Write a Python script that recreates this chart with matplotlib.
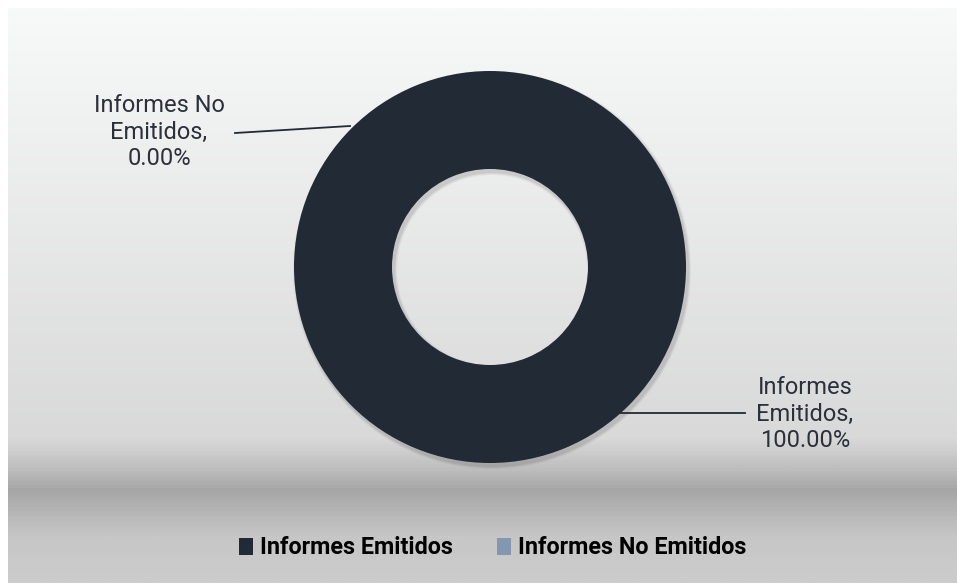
import numpy as np
import matplotlib
matplotlib.use('Agg')
import matplotlib.pyplot as plt
from matplotlib.colors import LinearSegmentedColormap

# data
categories = ['Informes Emitidos', 'Informes No Emitidos']
values = [100.0, 0.0]
colors = ['#222a35', '#8497b0']

W, H = 957, 583
fig = plt.figure(figsize=(W / 100, H / 100), dpi=100)
fig.patch.set_facecolor('white')
ax = fig.add_axes([0, 0, 1, 1])
ax.set_xlim(0, W)
ax.set_ylim(0, H)
ax.set_aspect('equal')
ax.axis('off')

# background gradient of the chart area (top to bottom)
stops = [(0.0, '#f8f9f9'), (0.75, '#d9d9d9'), (0.80, '#c0c0c0'),
         (0.84, '#a6a6a6'), (0.92, '#c6c6c6'), (1.0, '#cccccc')]
cmap = LinearSegmentedColormap.from_list('bg', stops)
grad = np.linspace(0, 1, 400).reshape(-1, 1)
ax.imshow(grad, cmap=cmap, aspect='auto', extent=(8, W, 0, H - 8), origin='upper', zorder=0)

cx, cy = 490, H - 267
R = 196

# soft shadow
for i, a in enumerate([0.06, 0.05, 0.04]):
    ax.pie([1], colors=['black'], radius=R + 1 + i, center=(cx + 2, cy - 3),
           wedgeprops=dict(width=R / 2 + 2 + 2 * i, alpha=a, linewidth=0), frame=True)

wedges, _ = ax.pie(values, colors=colors, radius=R, center=(cx, cy), startangle=90,
                   counterclock=False, wedgeprops=dict(width=R / 2, linewidth=0), frame=True)
ax.set_xlim(0, W)
ax.set_ylim(0, H)
ax.axis('off')

lab_font = dict(family='Roboto', fontsize=17, color='#2b313b', ha='center', va='center',
                linespacing=1.22)

# leader lines and labels
ax.plot([235, 350], [H - 133, H - 126], color='#222a35', lw=1.3, zorder=5)
ax.text(159, H - 132, 'Informes No\nEmitidos,\n%.2f%%' % values[1], **lab_font)

ax.plot([620, 745], [H - 413, H - 413], color='#222a35', lw=1.3, zorder=5)
ax.text(805, H - 414, 'Informes\nEmitidos,\n%.2f%%' % values[0], **lab_font)

leg = ax.legend(wedges, categories, loc='center', bbox_to_anchor=(493 / W, 1 - 548 / H),
                ncol=2, frameon=False, handlelength=0.6, handleheight=0.7,
                handletextpad=0.3, columnspacing=1.9,
                prop=dict(family='Roboto', weight='bold', size=16.8))
for t in leg.get_texts():
    t.set_color('black')

fig.savefig('out.png', dpi=100)
